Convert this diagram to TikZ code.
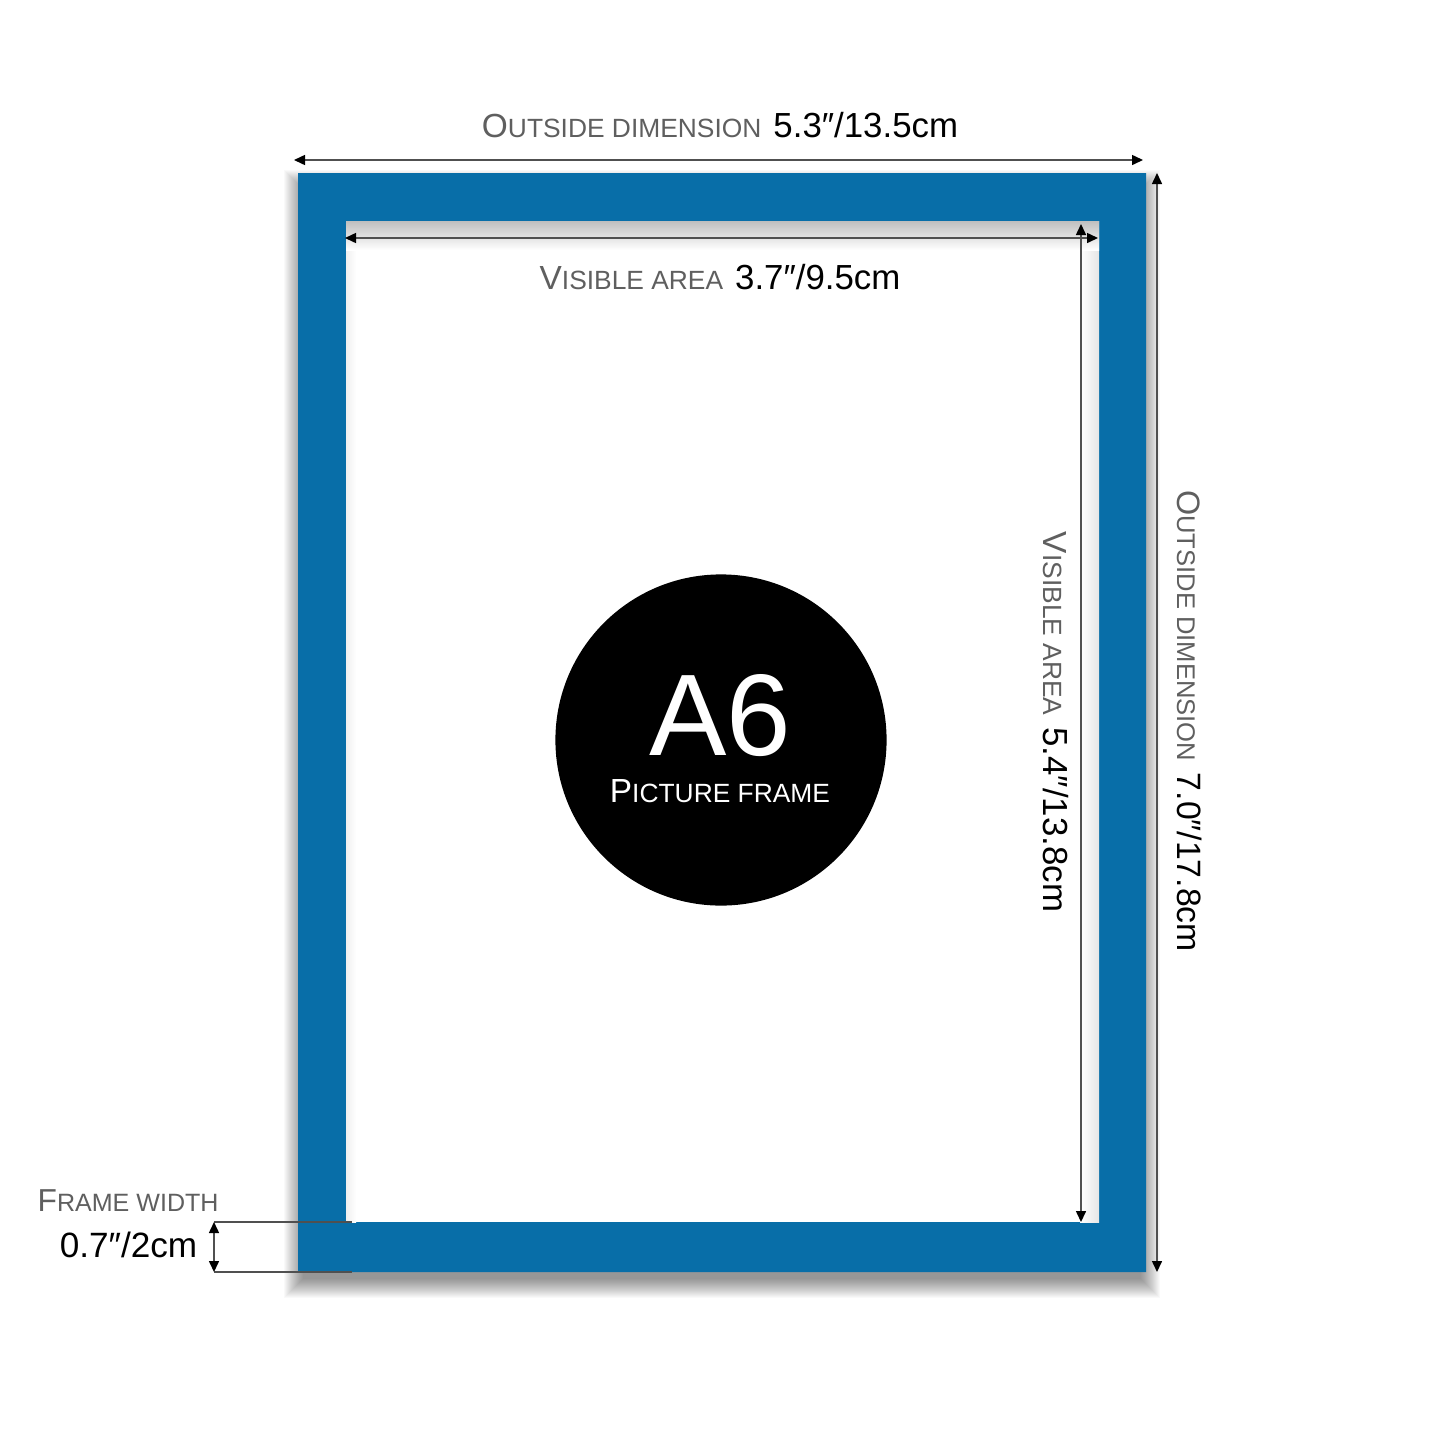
\documentclass[tikz,border=0pt]{standalone}
\usepackage{fontspec}
\setmainfont{Liberation Sans}
\usetikzlibrary{arrows.meta}
\definecolor{frameblue}{RGB}{8,110,168}
\definecolor{lblgrey}{RGB}{95,95,95}
\definecolor{dimgrey}{RGB}{80,80,80}
\newcommand\mysmc[2]{#1{\fontsize{7.5pt}{9pt}\selectfont #2}}
\begin{document}
\begin{tikzpicture}[x=0.01cm,y=-0.01cm,
  tipx/.tip={Triangle[length=0.11cm,width=0.1cm,color=black]},
  dimline/.style={draw=dimgrey,line width=0.015cm},
  dimarrow/.style={dimline,tipx-tipx},
  lbl/.style={inner sep=0pt,font=\fontsize{9.5pt}{11pt}\selectfont,text=black},
  lbltxt/.style={text=lblgrey}]
\useasboundingbox (0,0) rectangle (1445,1445);
\fill[white] (0,0) rectangle (1445,1445);
% soft drop shadow
\foreach \i in {1,...,20}
  \fill[black,opacity=0.022] (304-\i,190-\i) rectangle (1140+\i,1278+\i);
% frame
\fill[frameblue,even odd rule] (298,173) rectangle (1146,1272) (346,221) rectangle (1099,1222);
\fill[white] (346,221) rectangle (1099,1222);
% inner shadows
\shade[left color=white,right color=black!10] (1080,221) rectangle (1099,1222);
\shade[left color=black!6,right color=white] (346,221) rectangle (356,1222);
\shade[top color=black!25,bottom color=white] (346,221) rectangle (1099,250);
% dimension coordinates
\coordinate (otL) at (294,160);
\coordinate (otR) at (1143,160);
\coordinate (itL) at (345,238);
\coordinate (itR) at (1098,238);
\coordinate (ivT) at (1081,224);
\coordinate (ivB) at (1081,1222);
\coordinate (ovT) at (1157,173);
\coordinate (ovB) at (1157,1272);
\coordinate (fwT) at (214,1222);
\coordinate (fwB) at (214,1272);
\coordinate (fwTe) at (352,1222);
\coordinate (fwBe) at (352,1272);
\draw[dimarrow] (otL) -- (otR);
\draw[dimarrow] (itL) -- (itR);
\draw[dimarrow] (ivT) -- (ivB);
\draw[dimarrow] (ovT) -- (ovB);
\draw[dimline] (fwT) -- (fwTe);
\draw[dimline] (fwB) -- (fwBe);
\draw[dimarrow] (fwT) -- (fwB);
% labels
\node[lbl,anchor=base] (outtop) at (720,137) {{\color{lblgrey}\mysmc{O}{UTSIDE DIMENSION}}\hspace{0.12cm}{\fontsize{9.9pt}{11pt}\selectfont 5.3″/13.5cm}};
\node[lbl,anchor=base] (vistop) at (720,289) {{\color{lblgrey}\mysmc{V}{ISIBLE AREA}}\hspace{0.12cm}{\fontsize{9.9pt}{11pt}\selectfont 3.7″/9.5cm}};
\node[lbl,anchor=base,rotate=-90] (visright) at (1043,722) {{\color{lblgrey}\mysmc{V}{ISIBLE AREA}}\hspace{0.12cm}{\fontsize{9.9pt}{11pt}\selectfont 5.4″/13.8cm}};
\node[lbl,anchor=base,rotate=-90,scale=0.97] (outright) at (1177,721) {{\color{lblgrey}\mysmc{O}{UTSIDE DIMENSION}}\hspace{0.12cm}{\fontsize{9.9pt}{11pt}\selectfont 7.0″/17.8cm}};
\node[lbl,anchor=base west,text=lblgrey,scale=0.95] (fwlbl) at (37,1211) {\mysmc{F}{RAME WIDTH}};
\node[lbl,anchor=base east,font=\fontsize{10pt}{12pt}\selectfont] (fwval) at (198,1257) {0.7″/2cm};
% badge
\node[circle,fill=black,minimum size=3.31cm,inner sep=0pt] (badge) at (721,740) {};
\node[inner sep=0pt,anchor=base,text=white,text depth=0pt,font=\fontsize{33pt}{36pt}\selectfont] (a6) at (720,755) {A6};
\node[lbl,anchor=base,text=white,text height=0.24cm] (pf) at (720,802) {\mysmc{P}{ICTURE FRAME}};
\end{tikzpicture}
\end{document}
